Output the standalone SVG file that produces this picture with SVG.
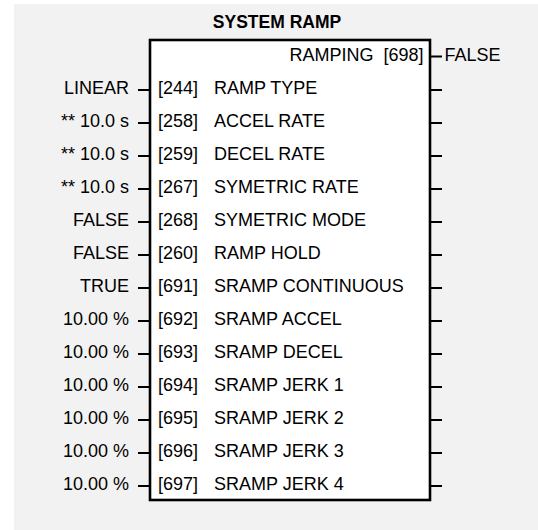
<svg xmlns="http://www.w3.org/2000/svg" width="538" height="530" viewBox="0 0 538 530">
<style>
text{font-family:"Liberation Sans",Arial,sans-serif;font-size:18px;fill:#000}
.t{font-weight:bold;font-size:17.5px}
.r{text-anchor:end}
.stub{stroke:#000;stroke-width:2}
</style>
<rect x="14" y="4" width="530" height="530" fill="#f2f2f2"/>
<text class="t" x="277" y="28" text-anchor="middle">SYSTEM RAMP</text>
<g id="block">
<rect x="150" y="40" width="280" height="460" fill="#fff" stroke="#000" stroke-width="2.6"/>
<text class="r" x="373.5" y="60.5">RAMPING</text>
<text x="383.5" y="60.5">[698]</text>
<text x="444.5" y="60.5">FALSE</text>
<g id="inputs">
<text class="r" x="129" y="93.5">LINEAR</text><text x="158" y="93.5">[244]</text><text x="214" y="93.5">RAMP TYPE</text>
<text class="r" x="129" y="126.5">** 10.0 s</text><text x="158" y="126.5">[258]</text><text x="214" y="126.5">ACCEL RATE</text>
<text class="r" x="129" y="159.5">** 10.0 s</text><text x="158" y="159.5">[259]</text><text x="214" y="159.5">DECEL RATE</text>
<text class="r" x="129" y="192.5">** 10.0 s</text><text x="158" y="192.5">[267]</text><text x="214" y="192.5">SYMETRIC RATE</text>
<text class="r" x="129" y="225.5">FALSE</text><text x="158" y="225.5">[268]</text><text x="214" y="225.5">SYMETRIC MODE</text>
<text class="r" x="129" y="258.5">FALSE</text><text x="158" y="258.5">[260]</text><text x="214" y="258.5">RAMP HOLD</text>
<text class="r" x="129" y="291.5">TRUE</text><text x="158" y="291.5">[691]</text><text x="214" y="291.5">SRAMP CONTINUOUS</text>
<text class="r" x="129" y="324.5">10.00 %</text><text x="158" y="324.5">[692]</text><text x="214" y="324.5">SRAMP ACCEL</text>
<text class="r" x="129" y="357.5">10.00 %</text><text x="158" y="357.5">[693]</text><text x="214" y="357.5">SRAMP DECEL</text>
<text class="r" x="129" y="390.5">10.00 %</text><text x="158" y="390.5">[694]</text><text x="214" y="390.5">SRAMP JERK 1</text>
<text class="r" x="129" y="423.5">10.00 %</text><text x="158" y="423.5">[695]</text><text x="214" y="423.5">SRAMP JERK 2</text>
<text class="r" x="129" y="456.5">10.00 %</text><text x="158" y="456.5">[696]</text><text x="214" y="456.5">SRAMP JERK 3</text>
<text class="r" x="129" y="489.5">10.00 %</text><text x="158" y="489.5">[697]</text><text x="214" y="489.5">SRAMP JERK 4</text>
</g>
</g>
<g id="connectors" class="stub">
<line x1="430" y1="56.5" x2="442" y2="56.5"/>
<line x1="138" y1="90" x2="150" y2="90"/><line x1="430" y1="90" x2="442" y2="90"/>
<line x1="138" y1="123" x2="150" y2="123"/><line x1="430" y1="123" x2="442" y2="123"/>
<line x1="138" y1="156" x2="150" y2="156"/><line x1="430" y1="156" x2="442" y2="156"/>
<line x1="138" y1="189" x2="150" y2="189"/><line x1="430" y1="189" x2="442" y2="189"/>
<line x1="138" y1="222" x2="150" y2="222"/><line x1="430" y1="222" x2="442" y2="222"/>
<line x1="138" y1="255" x2="150" y2="255"/><line x1="430" y1="255" x2="442" y2="255"/>
<line x1="138" y1="288" x2="150" y2="288"/><line x1="430" y1="288" x2="442" y2="288"/>
<line x1="138" y1="321" x2="150" y2="321"/><line x1="430" y1="321" x2="442" y2="321"/>
<line x1="138" y1="354" x2="150" y2="354"/><line x1="430" y1="354" x2="442" y2="354"/>
<line x1="138" y1="387" x2="150" y2="387"/><line x1="430" y1="387" x2="442" y2="387"/>
<line x1="138" y1="420" x2="150" y2="420"/><line x1="430" y1="420" x2="442" y2="420"/>
<line x1="138" y1="453" x2="150" y2="453"/><line x1="430" y1="453" x2="442" y2="453"/>
<line x1="138" y1="486" x2="150" y2="486"/><line x1="430" y1="486" x2="442" y2="486"/>
</g>
</svg>
